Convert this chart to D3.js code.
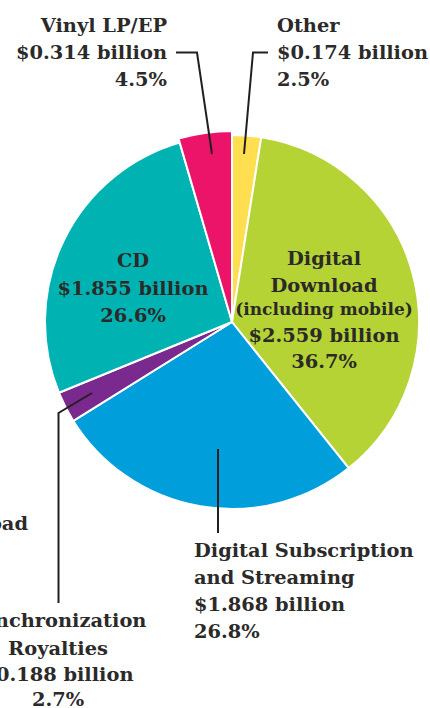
<!DOCTYPE html>
<html><head><meta charset="utf-8">
<script src="https://cdn.jsdelivr.net/npm/d3@7"></script>
<style>html,body{margin:0;padding:0;background:#fff;overflow:hidden}</style>
</head><body>
<svg id="c" width="430" height="708"></svg>
<script>
const categories = ["Other","Digital Download","Digital Subscription and Streaming","Synchronization Royalties","CD","Vinyl LP/EP"];
const valuesBillion = [0.174, 2.559, 1.868, 0.188, 1.855, 0.314];
const percentLabels = ["2.5%","36.7%","26.8%","2.7%","26.6%","4.5%"];
const colors = ["#FFDF4F","#B5D334","#009FDB","#7A2A8F","#00B3B3","#EC1469"];

const svg = d3.select("#c");
const cx = 232, cy = 322, R = 187;
const ink = "#2b2a29";
const font = "'DejaVu Serif', serif";
const FS = 19.4;

const pie = d3.pie().sort(null).value(d => d)(valuesBillion);
const arc = d3.arc().innerRadius(0).outerRadius((d) => d.index === 5 ? R + 4 : R);
const g = svg.append("g").attr("transform", `translate(${cx},${cy})`);
g.selectAll("path").data(pie).join("path")
  .attr("d", arc)
  .attr("fill", (d,i) => colors[i])
  .attr("stroke", "#fff").attr("stroke-width", 2).attr("stroke-linejoin","round");

const fmt = v => "$" + d3.format(".3f")(v) + " billion";

function label(x, y, lines, anchor, sizes) {
  const t = svg.append("text").attr("x", x).attr("y", y)
    .attr("text-anchor", anchor).attr("fill", ink)
    .attr("font-family", font).attr("font-weight", "bold");
  let dy = 0;
  lines.forEach((l, k) => {
    const s = sizes ? sizes[k] : FS;
    t.append("tspan").attr("x", x).attr("y", y + (l.dy != null ? l.dy : dy))
      .attr("font-size", s).text(l.text);
    dy += 27;
  });
}
function L(text, dy) { return {text, dy}; }

// Vinyl
label(167, 31.5, [L("Vinyl LP/EP"), L(fmt(valuesBillion[5])), L(percentLabels[5])], "end");
// Other
label(277, 31.5, [L("Other"), L(fmt(valuesBillion[0])), L(percentLabels[0])], "start");
// Digital Download
label(324, 265, [L("Digital",0), L("Download",27), L("(including mobile)",50), L(fmt(valuesBillion[1]),77), L(percentLabels[1],103)], "middle", [FS,FS,17,FS,FS]);
// CD
label(133, 267, [L("CD",0), L(fmt(valuesBillion[4]),28), L(percentLabels[4],55)], "middle");
// Subscription
label(194, 557, [L("Digital Subscription"), L("and Streaming"), L(fmt(valuesBillion[2])), L(percentLabels[2])], "start");
// Sync
label(58, 627, [L("Synchronization",0), L("Royalties",28), L(fmt(valuesBillion[3]),54), L(percentLabels[3],79)], "middle");
// cut-off label at left edge
label(28, 530, [L("Download")], "end");

// leader lines
const lines = [
  [[176,52.5],[197,52.5],[212,154]],
  [[268,52.5],[253,52.5],[244,154]],
  [[218,449],[218,533]],
  [[92,393],[58.5,413],[58.5,603]]
];
svg.selectAll("path.leader").data(lines).join("path").attr("class","leader")
  .attr("d", d3.line())
  .attr("fill","none").attr("stroke","#231f20").attr("stroke-width",2);
</script>
</body></html>
